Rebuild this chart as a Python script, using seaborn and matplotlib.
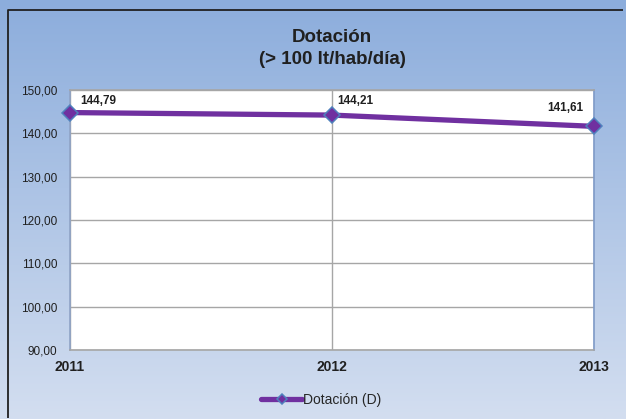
import numpy as np
import pandas as pd
import seaborn as sns
import matplotlib.pyplot as plt
from matplotlib.colors import LinearSegmentedColormap

years = ["2011", "2012", "2013"]
dotacion = [144.79, 144.21, 141.61]
labels = ["144,79", "144,21", "141,61"]
y_ticks = [90, 100, 110, 120, 130, 140, 150]

sns.set_style("white")
plt.rcParams['font.family'] = ['Liberation Sans', 'DejaVu Sans']

W, H = 626, 419
fig = plt.figure(figsize=(W / 100, H / 100), dpi=100)

# gradient background in pixel coordinates (y down)
bg = fig.add_axes([0, 0, 1, 1], zorder=-5)
cmap = LinearSegmentedColormap.from_list("bg", ["#8caddc", "#d3def0"])
bg.imshow(np.linspace(0, 1, 256).reshape(-1, 1), aspect="auto", cmap=cmap,
          extent=[0, W, H, 0])
bg.set_xlim(0, W)
bg.set_ylim(H, 0)
# outer frame, only the left and top edges fall inside the picture
bg.plot([7.5, 7.5, W - 3], [H - 1, 10.5, 10.5], color="#202020",
        linewidth=1.3, solid_capstyle="butt")
bg.set_axis_off()

ax = fig.add_axes([70 / W, (H - 350) / H, 524 / W, 260 / H])
df = pd.DataFrame({"x": range(len(years)), "Dotación (D)": dotacion})
sns.lineplot(data=df, x="x", y="Dotación (D)", ax=ax, color="#7030a0",
             linewidth=3.8, marker="D", markersize=8.5, markerfacecolor="#7030a0",
             markeredgecolor="#4f81bd", markeredgewidth=1.1,
             label="Dotación (D)", clip_on=False, zorder=5)

ax.set_xlim(0, 2)
ax.set_ylim(90, 150)
ax.set_yticks(y_ticks)
ax.set_yticklabels([f"{v},00" for v in y_ticks], fontsize=8.5, color="#202020")
ax.set_xticks(range(len(years)))
ax.set_xticklabels(years, fontsize=10, fontweight="bold", color="#202020")
ax.tick_params(axis="y", length=0, pad=9)
ax.tick_params(axis="x", length=0, pad=7)
ax.set_xlabel("")
ax.set_ylabel("")
ax.set_facecolor("white")
ax.grid(True, color="#a6a6a6", linewidth=1)
for s in ax.spines.values():
    s.set_color("#a6a6a6")
    s.set_linewidth(1.2)
ax.spines["left"].set_color("#8fa3c6")
ax.spines["right"].set_color("#7f9bc8")

offsets = [(10, 6, "left"), (5, 8, "left"), (-11, 12, "right")]
for i, (v, t) in enumerate(zip(dotacion, labels)):
    dx, dy, ha = offsets[i]
    ax.annotate(t, (i, v), xytext=(dx * 0.72, dy * 0.72), textcoords="offset points",
                ha=ha, va="bottom", fontsize=8.5, fontweight="bold", color="#202020")

fig.text(332 / W, 1 - 37 / H, "Dotación", ha="center", va="center",
         fontsize=13.5, fontweight="bold", color="#202020")
fig.text(332 / W, 1 - 59 / H, "(> 100 lt/hab/día)", ha="center", va="center",
         fontsize=13.5, fontweight="bold", color="#202020")

leg = ax.legend(loc="center", bbox_to_anchor=(321 / W, 1 - 400 / H),
                bbox_transform=fig.transFigure, frameon=False, fontsize=10,
                handlelength=3.0, handletextpad=0.05, markerscale=0.6)

fig.savefig("out.png", dpi=100)
